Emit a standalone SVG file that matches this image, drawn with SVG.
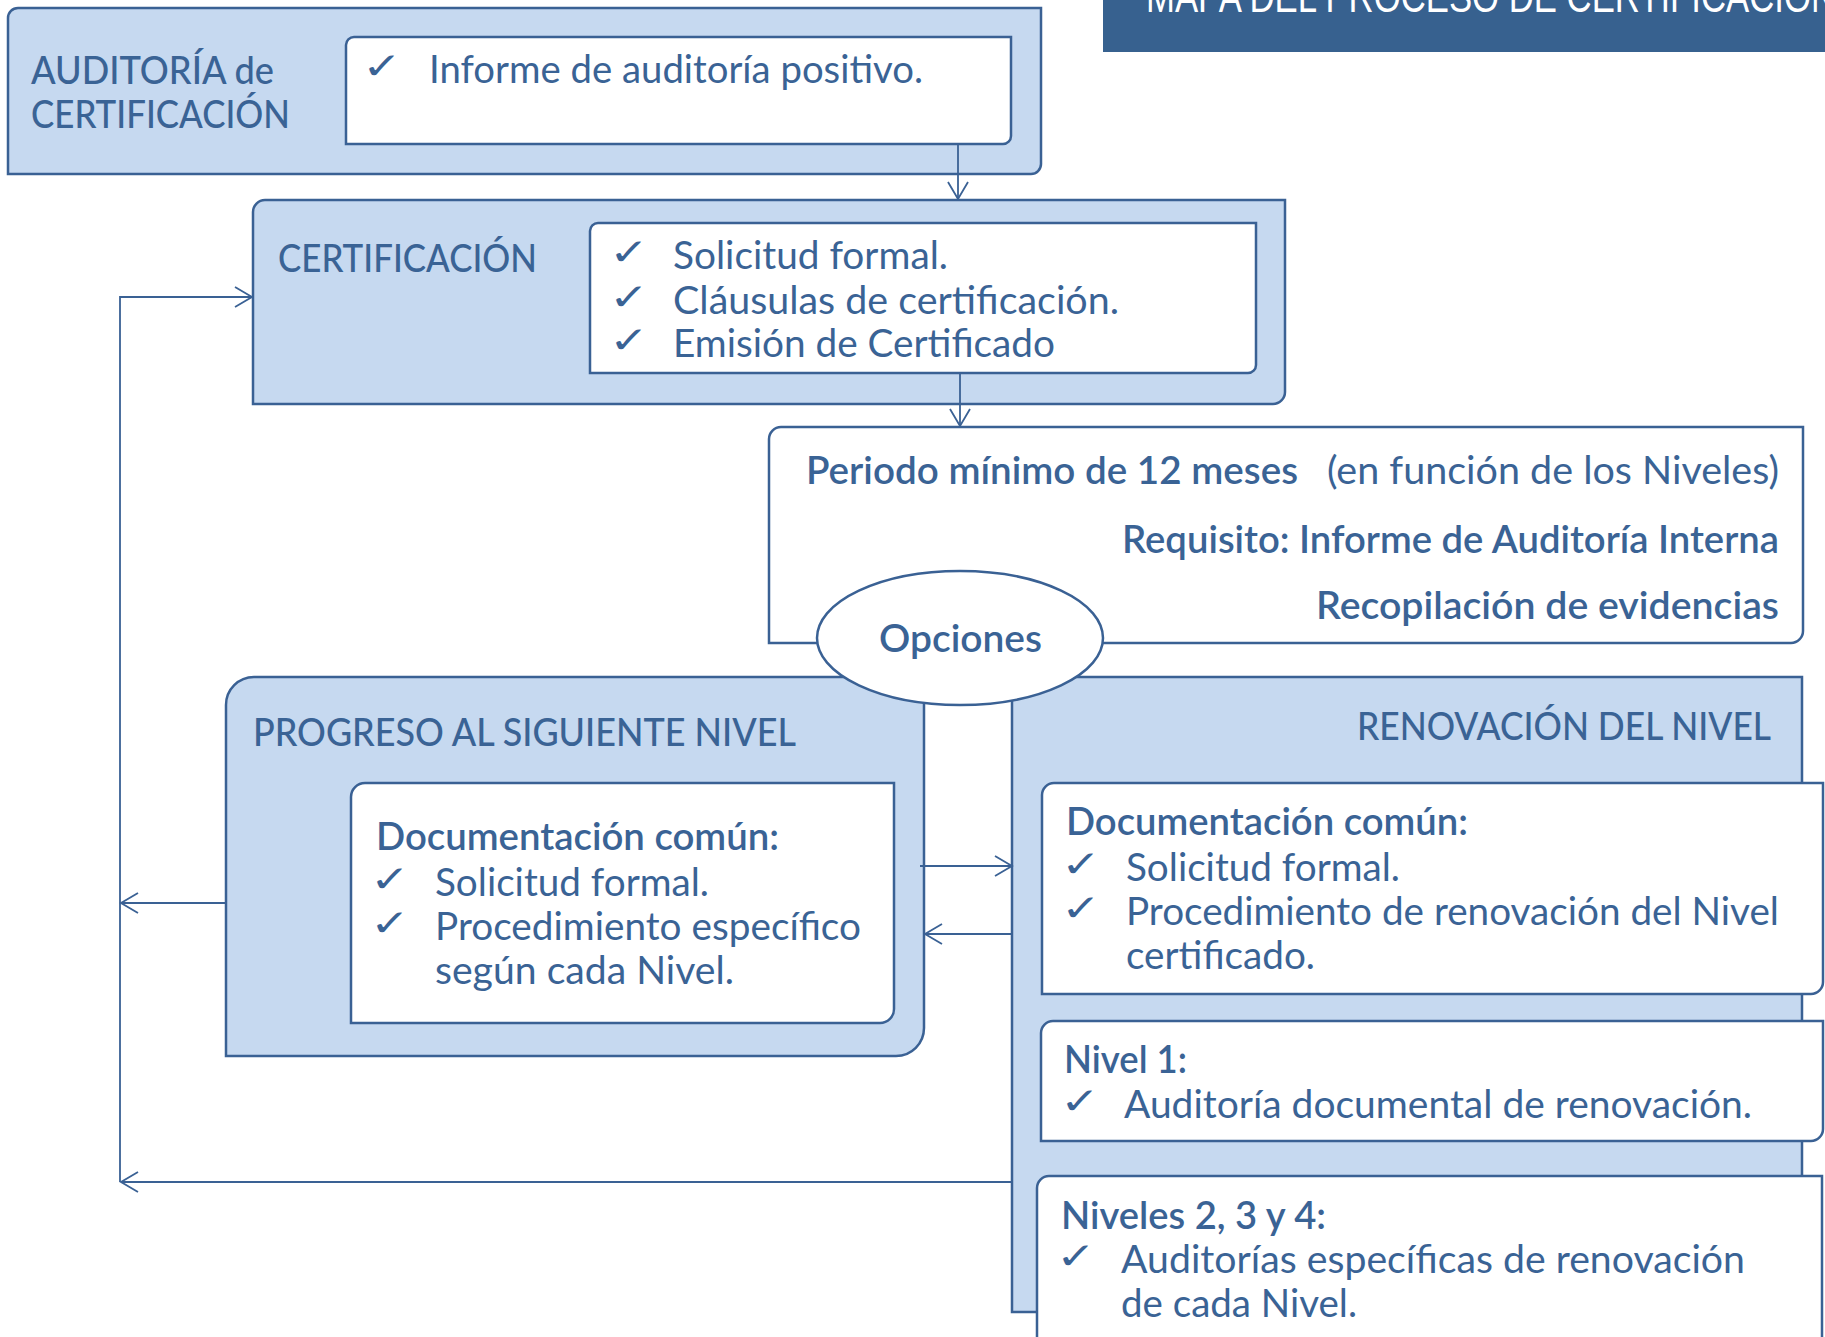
<svg xmlns="http://www.w3.org/2000/svg" width="1825" height="1337" viewBox="0 0 1825 1337">
<style>
.outer{fill:#C6D9F0;stroke:#3A6194;stroke-width:2.5}
.inner{fill:#FFFFFF;stroke:#3A6194;stroke-width:2.5}
.t{font-family:Lato,"Open Sans",sans-serif;font-size:38px;fill:#3A6395}
.title{font-weight:500}
.body{font-weight:400}
.b{font-weight:600}
.ck{font-family:"DejaVu Sans",sans-serif;font-size:37px;font-weight:400;fill:#3A6395}
.con{fill:none;stroke:#3A6194;stroke-width:1.8}
.banner-t{font-family:"Liberation Sans",Arial,sans-serif;font-size:44px;fill:#FFFFFF}
</style>
<defs>
<marker id="arr" markerUnits="userSpaceOnUse" markerWidth="22" markerHeight="24" refX="18" refY="11" orient="auto">
<path d="M1,1 L18,11 L1,21" fill="none" stroke="#3A6194" stroke-width="1.8"/>
</marker>
</defs>

<g id="banner">
<rect x="1103" y="0" width="722" height="52" fill="#37618F"/>
<text class="banner-t" x="1146" y="12" textLength="690" lengthAdjust="spacingAndGlyphs">MAPA DEL PROCESO DE CERTIFICACIÓN</text>
</g>

<g id="auditoria">
<path class="outer" d="M18,8 H1041 V164 A10,10 0 0 1 1031,174 H8 V18 A10,10 0 0 1 18,8 Z"/>
<path class="inner" d="M354,37 H1011 V136 A8,8 0 0 1 1003,144 H346 V45 A8,8 0 0 1 354,37 Z"/>
<text class="t title" x="31" y="84" textLength="243" lengthAdjust="spacingAndGlyphs">AUDITORÍA de</text>
<text class="t title" x="31" y="128" textLength="259" lengthAdjust="spacingAndGlyphs">CERTIFICACIÓN</text>
<text class="ck" x="362" y="79" textLength="40" lengthAdjust="spacingAndGlyphs">✓</text>
<text class="t body" x="429" y="83" textLength="494" lengthAdjust="spacingAndGlyphs">Informe de auditoría positivo.</text>
</g>

<g id="certificacion">
<path class="outer" d="M265,200 H1285 V392 A12,12 0 0 1 1273,404 H253 V212 A12,12 0 0 1 265,200 Z"/>
<path class="inner" d="M598,223 H1256 V365 A8,8 0 0 1 1248,373 H590 V231 A8,8 0 0 1 598,223 Z"/>
<text class="t title" x="278" y="272" textLength="259" lengthAdjust="spacingAndGlyphs">CERTIFICACIÓN</text>
<text class="ck" x="609" y="265" textLength="40" lengthAdjust="spacingAndGlyphs">✓</text>
<text class="t body" x="673" y="269" textLength="275" lengthAdjust="spacingAndGlyphs">Solicitud formal.</text>
<text class="ck" x="609" y="310" textLength="40" lengthAdjust="spacingAndGlyphs">✓</text>
<text class="t body" x="673" y="314" textLength="446" lengthAdjust="spacingAndGlyphs">Cláusulas de certificación.</text>
<text class="ck" x="609" y="353" textLength="40" lengthAdjust="spacingAndGlyphs">✓</text>
<text class="t body" x="673" y="357" textLength="382" lengthAdjust="spacingAndGlyphs">Emisión de Certificado</text>
</g>

<g id="periodo">
<path class="inner" d="M781,427 H1803 V631 A12,12 0 0 1 1791,643 H769 V439 A12,12 0 0 1 781,427 Z"/>
<text class="t b" x="806" y="484" textLength="492" lengthAdjust="spacingAndGlyphs">Periodo mínimo de 12 meses</text>
<text class="t body" x="1327" y="484" textLength="452" lengthAdjust="spacingAndGlyphs">(en función de los Niveles)</text>
<text class="t b" x="1122" y="553" textLength="657" lengthAdjust="spacingAndGlyphs">Requisito: Informe de Auditoría Interna</text>
<text class="t b" x="1316" y="619" textLength="463" lengthAdjust="spacingAndGlyphs">Recopilación de evidencias</text>
</g>

<g id="progreso">
<path class="outer" d="M254,677 H924 V1028 A28,28 0 0 1 896,1056 H226 V705 A28,28 0 0 1 254,677 Z"/>
<path class="inner" d="M365,783 H894 V1009 A14,14 0 0 1 880,1023 H351 V797 A14,14 0 0 1 365,783 Z"/>
<text class="t title" x="253" y="746" textLength="543" lengthAdjust="spacingAndGlyphs">PROGRESO AL SIGUIENTE NIVEL</text>
<text class="t b" x="376" y="850" textLength="403" lengthAdjust="spacingAndGlyphs">Documentación común:</text>
<text class="ck" x="370" y="892" textLength="40" lengthAdjust="spacingAndGlyphs">✓</text>
<text class="t body" x="435" y="896" textLength="274" lengthAdjust="spacingAndGlyphs">Solicitud formal.</text>
<text class="ck" x="370" y="936" textLength="40" lengthAdjust="spacingAndGlyphs">✓</text>
<text class="t body" x="435" y="940" textLength="426" lengthAdjust="spacingAndGlyphs">Procedimiento específico</text>
<text class="t body" x="435" y="984" textLength="299" lengthAdjust="spacingAndGlyphs">según cada Nivel.</text>
</g>

<g id="renovacion">
<path class="outer" d="M1026,677 H1802 V1298 A14,14 0 0 1 1788,1312 H1012 V691 A14,14 0 0 1 1026,677 Z"/>
<text class="t title" x="1357" y="740" textLength="414" lengthAdjust="spacingAndGlyphs">RENOVACIÓN DEL NIVEL</text>
</g>

<g id="renovacion-doc">
<path class="inner" d="M1054,783 H1823 V982 A12,12 0 0 1 1811,994 H1042 V795 A12,12 0 0 1 1054,783 Z"/>
<text class="t b" x="1066" y="835" textLength="402" lengthAdjust="spacingAndGlyphs">Documentación común:</text>
<text class="ck" x="1061" y="877" textLength="40" lengthAdjust="spacingAndGlyphs">✓</text>
<text class="t body" x="1126" y="881" textLength="274" lengthAdjust="spacingAndGlyphs">Solicitud formal.</text>
<text class="ck" x="1061" y="921" textLength="40" lengthAdjust="spacingAndGlyphs">✓</text>
<text class="t body" x="1126" y="925" textLength="653" lengthAdjust="spacingAndGlyphs">Procedimiento de renovación del Nivel</text>
<text class="t body" x="1126" y="969" textLength="189" lengthAdjust="spacingAndGlyphs">certificado.</text>
</g>

<g id="nivel1">
<path class="inner" d="M1053,1021 H1823 V1129 A12,12 0 0 1 1811,1141 H1041 V1033 A12,12 0 0 1 1053,1021 Z"/>
<text class="t b" x="1064" y="1073" textLength="123" lengthAdjust="spacingAndGlyphs">Nivel 1:</text>
<text class="ck" x="1060" y="1114" textLength="40" lengthAdjust="spacingAndGlyphs">✓</text>
<text class="t body" x="1124" y="1118" textLength="628" lengthAdjust="spacingAndGlyphs">Auditoría documental de renovación.</text>
</g>

<g id="niveles234">
<path class="inner" d="M1049,1176 H1822 V1338 A12,12 0 0 1 1810,1350 H1037 V1188 A12,12 0 0 1 1049,1176 Z"/>
<text class="t b" x="1061" y="1229" textLength="265" lengthAdjust="spacingAndGlyphs">Niveles 2, 3 y 4:</text>
<text class="ck" x="1056" y="1269" textLength="40" lengthAdjust="spacingAndGlyphs">✓</text>
<text class="t body" x="1121" y="1273" textLength="624" lengthAdjust="spacingAndGlyphs">Auditorías específicas de renovación</text>
<text class="t body" x="1121" y="1317" textLength="236" lengthAdjust="spacingAndGlyphs">de cada Nivel.</text>
</g>

<g id="connectors">
<line class="con" x1="958" y1="144" x2="958" y2="199" marker-end="url(#arr)"/>
<line class="con" x1="960" y1="373" x2="960" y2="426" marker-end="url(#arr)"/>
<polyline class="con" points="120,1182 120,297 252,297" marker-end="url(#arr)"/>
<line class="con" x1="226" y1="903" x2="121" y2="903" marker-end="url(#arr)"/>
<line class="con" x1="1012" y1="1182" x2="121" y2="1182" marker-end="url(#arr)"/>
<line class="con" x1="920" y1="866" x2="1012" y2="866" marker-end="url(#arr)"/>
<line class="con" x1="1012" y1="934" x2="925" y2="934" marker-end="url(#arr)"/>
</g>

<g id="opciones">
<ellipse cx="960" cy="638" rx="143" ry="67" fill="#FFFFFF" stroke="#3A6194" stroke-width="2.5"/>
<text class="t b" x="879" y="652" textLength="163" lengthAdjust="spacingAndGlyphs">Opciones</text>
</g>
</svg>
